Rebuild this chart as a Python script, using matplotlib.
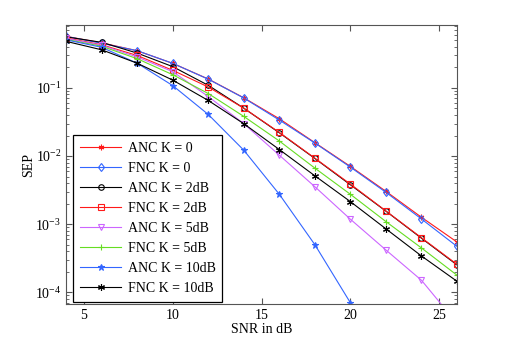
import numpy as np
import matplotlib
matplotlib.use("Agg")
import matplotlib.pyplot as plt
from matplotlib.ticker import LogLocator, NullFormatter

# SNR grid (dB)
snr = [4, 6, 8, 10, 12, 14, 16, 18, 20, 22, 24, 26]

# symbol error probability
anc_k0 = [0.570, 0.458, 0.351, 0.229, 0.135, 0.0715, 0.0352, 0.0157, 0.00703, 0.00303, 0.00126, 0.000546]
fnc_k0 = [0.570, 0.451, 0.351, 0.229, 0.134, 0.0710, 0.0337, 0.0155, 0.00686, 0.00293, 0.00119, 0.000471]
anc_k2 = [0.561, 0.466, 0.324, 0.205, 0.109, 0.0503, 0.0219, 0.00920, 0.00378, 0.00155, 0.000621, 0.000252]
fnc_k2 = [0.542, 0.429, 0.299, 0.181, 0.103, 0.0503, 0.0222, 0.00929, 0.00387, 0.00156, 0.000631, 0.000257]
anc_k5 = [0.534, 0.422, 0.284, 0.173, 0.0746, 0.0298, 0.01028, 0.00354, 0.00118, 0.000417, 0.000150, 0.000035]
fnc_k5 = [0.515, 0.408, 0.268, 0.156, 0.0826, 0.0381, 0.0166, 0.00664, 0.00274, 0.00109, 0.000447, 0.000178]
anc_k10 = [0.507, 0.394, 0.230, 0.108, 0.0407, 0.01216, 0.00274, 0.000499, 0.000070]
fnc_k10 = [0.482, 0.362, 0.230, 0.130, 0.0653, 0.0298, 0.01244, 0.00512, 0.00214, 0.000853, 0.000341, 0.000145]

labels = ['ANC K = 0', 'FNC K = 0', 'ANC K = 2dB', 'FNC K = 2dB',
          'ANC K = 5dB', 'FNC K = 5dB', 'ANC K = 10dB', 'FNC K = 10dB']

plt.rcParams['font.family'] = ['Liberation Serif', 'DejaVu Serif']
plt.rcParams['mathtext.fontset'] = 'stix'
plt.rcParams['font.size'] = 10

asterisk = (6, 2, 0)
series = [
    (anc_k0, '#ff1a1a', asterisk, 4, 'full'),
    (fnc_k0, '#3366ff', 'd', 4.5, 'none'),
    (anc_k2, '#000000', 'o', 4, 'none'),
    (fnc_k2, '#ff1a1a', 's', 4.5, 'none'),
    (anc_k5, '#cc66ff', 'v', 5, 'none'),
    (fnc_k5, '#66dd22', '+', 4.5, 'full'),
    (anc_k10, '#3366ff', '*', 5, 'full'),
    (fnc_k10, '#000000', asterisk, 5, 'full'),
]

fig = plt.figure(figsize=(5.05, 3.46), dpi=100)
ax = fig.add_axes([0.131, 0.121, 0.774, 0.807])

for (vals, col, mk, ms, fill), lab in zip(series, labels):
    ax.semilogy(snr[:len(vals)], vals, color=col, marker=mk, markersize=ms,
                fillstyle=fill, markeredgewidth=0.8, linewidth=0.8, label=lab)

ax.set_xlim(4, 26)
ax.set_ylim(6.7e-5, 0.84)
ax.set_xticks([5, 10, 15, 20, 25])
ax.yaxis.set_major_locator(LogLocator(base=10, numticks=10))
ax.yaxis.set_minor_locator(LogLocator(base=10, subs=np.arange(2, 10), numticks=10))
ax.yaxis.set_minor_formatter(NullFormatter())
ax.tick_params(which='both', direction='in', top=True, right=True, labelsize=10, color='#555555')
ax.tick_params(which='major', length=4)
ax.tick_params(which='minor', length=2)
for sp in ax.spines.values():
    sp.set_color('#555555')
    sp.set_linewidth(0.8)

ax.set_xlabel('SNR in dB', labelpad=1)
ax.set_ylabel('SEP', labelpad=0)

leg = ax.legend(loc='lower left', bbox_to_anchor=(0.017, 0.008), borderaxespad=0,
                fancybox=False, framealpha=1, edgecolor='black', handlelength=3.0,
                handletextpad=0.45, labelspacing=0.5, borderpad=0.5, fontsize=10)
leg.get_frame().set_linewidth(0.9)

fig.savefig('out.png', dpi=100)
